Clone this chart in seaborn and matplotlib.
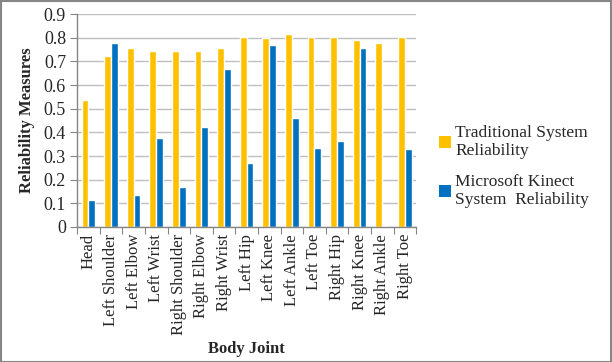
import matplotlib
matplotlib.use("Agg")
import matplotlib.pyplot as plt
import seaborn as sns
import pandas as pd
from matplotlib.patches import Patch

joints = ["Head", "Left Shoulder", "Left Elbow", "Left Wrist", "Right Shoulder",
          "Right Elbow", "Right Wrist", "Left Hip", "Left Knee", "Left Ankle",
          "Left Toe", "Right Hip", "Right Knee", "Right Ankle", "Right Toe"]
traditional = [0.535, 0.725, 0.758, 0.745, 0.743, 0.743, 0.758, 0.803, 0.797, 0.815,
               0.803, 0.803, 0.790, 0.778, 0.805]
kinect = [0.113, 0.776, 0.135, 0.378, 0.168, 0.423, 0.670, 0.270, 0.770, 0.460,
          0.333, 0.362, 0.758, 0.003, 0.330]
series_names = ["Traditional System\nReliability", "Microsoft Kinect\nSystem  Reliability"]
colors = ["#FFC000", "#0070C0"]

df = pd.DataFrame({
    "joint": joints * 2,
    "value": traditional + kinect,
    "series": [series_names[0]] * len(joints) + [series_names[1]] * len(joints),
})

sns.set_style("white")
plt.rcParams["font.family"] = ["Liberation Serif", "DejaVu Serif"]

fig = plt.figure(figsize=(6.12, 3.62), dpi=100)
ax = fig.add_axes([0.126, 0.373, 0.554, 0.588])
sns.barplot(data=df, x="joint", y="value", hue="series", palette=colors,
            width=0.6, ax=ax, legend=False, saturation=1)

ax.set_ylim(0, 0.9)
ax.set_xlim(-0.5, len(joints) - 0.5)
ax.set_yticks([i / 10 for i in range(10)])
ax.set_yticklabels(["0"] + [f"{i/10:.1f}" for i in range(1, 10)], fontsize=13)
ax.yaxis.grid(True, color="#bfbfbf", linewidth=1)
ax.set_axisbelow(True)
ax.set_xticks([i - 0.5 for i in range(len(joints) + 1)], minor=False)
ax.set_xticklabels([])
ax.set_xticks(range(len(joints)), minor=True)
ax.set_xticklabels(joints, minor=True, rotation=90, fontsize=12)
ax.tick_params(axis="x", which="minor", length=0, pad=5)
ax.tick_params(axis="x", which="major", length=5, color="#868686", direction="out", bottom=True)
ax.tick_params(axis="y", length=5, color="#868686", direction="out", left=True, pad=3)
for s in ["top", "right"]:
    ax.spines[s].set_visible(False)
for s in ["left", "bottom"]:
    ax.spines[s].set_color("#868686")
    ax.spines[s].set_linewidth(1)

ax.set_xlabel("Body Joint", fontsize=12, fontweight="bold")
ax.xaxis.set_label_coords(0.5, -0.535)
ax.set_ylabel("Reliability Measures", fontsize=12, fontweight="bold", labelpad=6)

handles = [Patch(facecolor=c, edgecolor="none") for c in colors]
fig.legend(handles, series_names, loc="center left", bbox_to_anchor=(0.717, 0.54),
           frameon=False, fontsize=12.5, handlelength=0.7, handleheight=0.7,
           handletextpad=0.25, labelspacing=0.85, borderpad=0, borderaxespad=0)

fig.patches.append(plt.Rectangle((0.001, 0.001), 0.997, 0.996, transform=fig.transFigure,
                                 fill=False, edgecolor="#868686", linewidth=1.5))
fig.savefig("out.png", dpi=100)
